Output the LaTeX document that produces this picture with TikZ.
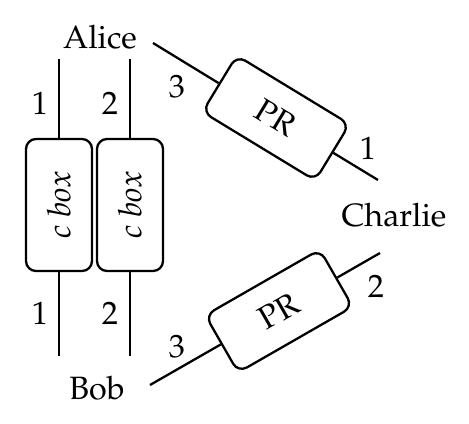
\documentclass[tikz,border=0pt]{standalone}
\usepackage[T1]{fontenc}
\usepackage{mathpazo}
\begin{document}
\begin{tikzpicture}[x=0.35pt,y=-0.35pt,
  wire/.style={line width=0.8pt},
  boxnode/.style={draw,line width=0.8pt,rounded corners=3.5pt,fill=white,
     minimum width=46.2pt,minimum height=23.1pt,inner sep=0pt},
  lbl/.style={inner sep=0pt},
  every node/.append style={font=\fontsize{11.3}{13}\selectfont}]
\useasboundingbox (0,0) rectangle (469,423);
% names
\node[lbl] (alice) at (100,37) {Alice};
\node[lbl] (bob) at (97,388) {Bob};
\node[lbl] (charlie) at (394,215) {Charlie};
% c boxes
\node[boxnode,rotate=90] (cb1) at (59,205) {\textit{c box}};
\node[boxnode,rotate=90] (cb2) at (130,205) {\textit{c box}};
\coordinate (t1) at (59,59);
\coordinate (t2) at (130,59);
\coordinate (u1) at (59,356);
\coordinate (u2) at (130,356);
\draw[wire] (t1) -- (cb1.east);
\draw[wire] (t2) -- (cb2.east);
\draw[wire] (cb1.west) -- (u1);
\draw[wire] (cb2.west) -- (u2);
\node[lbl] (n1a) at (40,103) {1};
\node[lbl] (n2a) at (110,103) {2};
\node[lbl] (n1b) at (40,313) {1};
\node[lbl] (n2b) at (110,313) {2};
% PR boxes
\node[boxnode,rotate=-31.3] (pr1) at (276,118) {PR};
\coordinate (p1a) at (153,43);
\coordinate (p1b) at (378,180);
\draw[wire] (p1a) -- (pr1.west);
\draw[wire] (pr1.east) -- (p1b);
\node[lbl] (n3a) at (177,87) {3};
\node[lbl] (n1c) at (368,148) {1};
\node[boxnode,rotate=29.85] (pr2) at (279,311) {PR};
\coordinate (p2a) at (150,385);
\coordinate (p2b) at (380,253);
\draw[wire] (p2a) -- (pr2.west);
\draw[wire] (pr2.east) -- (p2b);
\node[lbl] (n3b) at (177,347) {3};
\node[lbl] (n2c) at (376,286) {2};
\end{tikzpicture}
\end{document}
